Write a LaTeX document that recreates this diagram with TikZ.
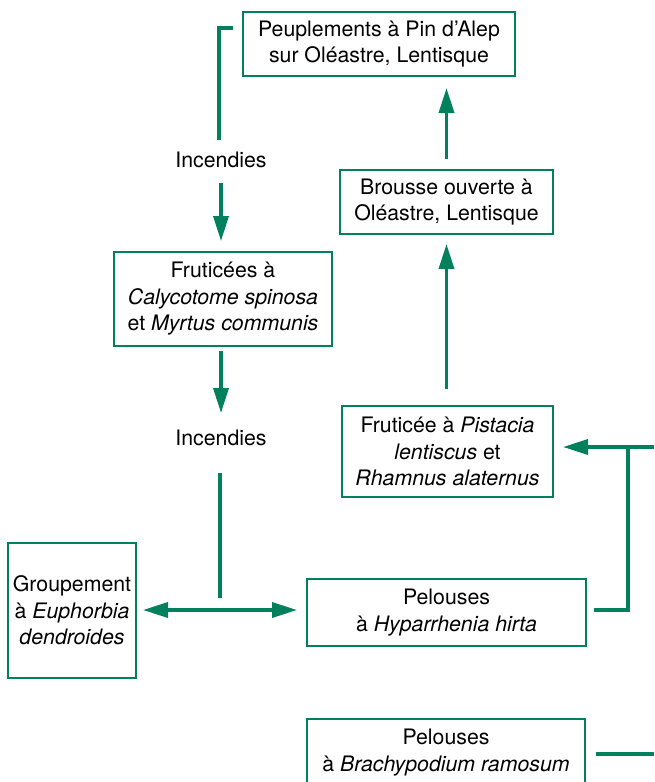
\documentclass[tikz,border=0pt]{standalone}
\usepackage{fontspec}
\setmainfont{TeX Gyre Heros}
\usetikzlibrary{arrows.meta,calc}
\definecolor{vert}{RGB}{0,128,92}
\tikzset{
  boite/.style={draw=vert,line width=2pt,align=center,inner sep=0pt,
    font=\fontsize{21.3}{26.5}\selectfont},
  etiq/.style={inner sep=0pt,font=\fontsize{21.3}{26.5}\selectfont},
  trait/.style={draw=vert,line width=3.5pt},
  fleche/.style={trait,-{Triangle[length=25pt,width=15pt]}},
  fleches/.style={trait,{Triangle[length=25pt,width=15pt]}-{Triangle[length=25pt,width=15pt]}}
}
\begin{document}
\begin{tikzpicture}[x=1pt,y=-1pt]
\useasboundingbox (0,0) rectangle (654,782);
\node[boite,minimum width=272pt,minimum height=64pt] (peup) at (379,44)
  {Peuplements à Pin d’Alep\\sur Oléastre, Lentisque};
\node[boite,minimum width=213pt,minimum height=64pt] (brousse) at (446.5,202)
  {Brousse ouverte à\\Oléastre, Lentisque};
\node[boite,minimum width=218pt,minimum height=94pt] (frutcal) at (223,299)
  {Fruticées à\\\textit{Calycotome spinosa}\\et \textit{Myrtus communis}};
\node[boite,minimum width=211pt,minimum height=91pt] (frutpis) at (447.5,451.5)
  {Fruticée à \textit{Pistacia}\\\textit{lentiscus} et\\\textit{Rhamnus alaternus}};
\node[boite,minimum width=128pt,minimum height=135pt] (group) at (72,610.5)
  {Groupement\\à \textit{Euphorbia}\\\textit{dendroides}};
\node[boite,minimum width=279pt,minimum height=67pt] (pelh) at (446.5,612.5)
  {Pelouses\\à \textit{Hyparrhenia hirta}};
\node[boite,minimum width=278pt,minimum height=67pt] (pelb) at (446,752.5)
  {Pelouses\\à \textit{Brachypodium ramosum}};
\node[etiq] (inc1) at (221,160) {Incendies};
\node[etiq] (inc2) at (221,438) {Incendies};
% coordinates
\coordinate (crochet) at (233,28);
\coordinate (jonc) at (220,598);
\coordinate (droite) at (628,447);
\coordinate (bordd) at (654,447);
\coordinate (bordb) at (654,754);
% connectors
\draw[trait] (crochet) -| ($(inc1.center)+(-2,-20)$);
\draw[fleche] ($(inc1.center)+(0,23)$) -- ($(inc1.center |- frutcal.north)+(0,-10)$);
\draw[fleche] ($(inc2.center |- frutcal.south)+(0,4)$) -- ($(inc2.center)+(0,-25)$);
\draw[trait] ($(inc2.center)+(-1,35)$) -- (jonc);
\draw[fleches] ($(group.east)+(6,-0.5)$) -- ($(pelh.west |- group.east)+(-9,-0.5)$);
\draw[fleche] ($(frutpis.north)+(-1,-16)$) -- ($(frutpis.north |- brousse.south)+(-1,9)$);
\draw[fleche] ($(brousse.north)+(0,-10)$) -- ($(brousse.north |- peup.south)+(0,11)$);
\draw[trait] ($(pelh.east)+(7,-2.5)$) -| (droite);
\draw[fleche] (bordd) -- ($(frutpis.east |- bordd)+(9,0)$);
\draw[trait] ($(pelb.east |- bordb)+(10,0)$) -- (bordb);
\end{tikzpicture}
\end{document}
